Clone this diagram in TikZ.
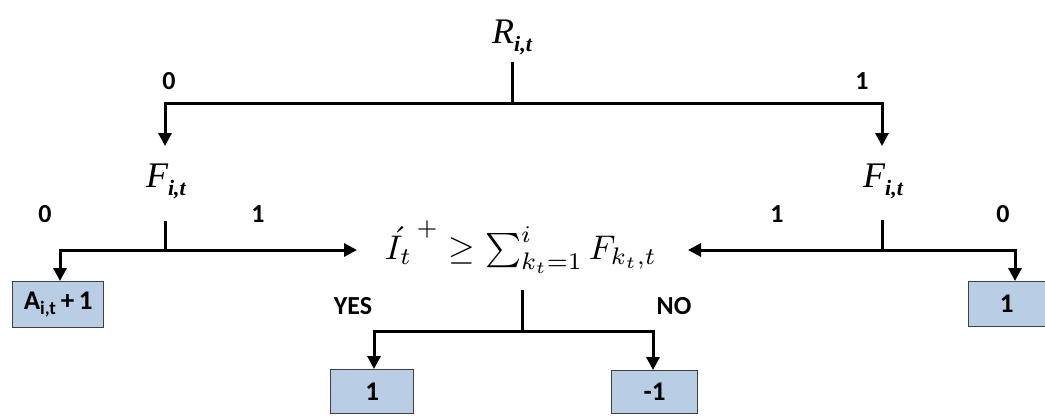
\documentclass[tikz,border=0pt]{standalone}
\usepackage{fontspec}
\setsansfont{Carlito}
\newfontfamily\tms{Liberation Serif}
\usetikzlibrary{arrows.meta}
\newcommand{\varRF}[1]{{\tms\itshape\fontsize{36}{40}\selectfont #1\raisebox{-0.22em}{\fontsize{22}{24}\selectfont\bfseries i,t}}}
\begin{document}
\begin{tikzpicture}[x=1pt,y=-1pt,
  conn/.style={line width=3pt,-{Triangle[width=13pt,length=13pt]}},
  plain/.style={line width=3pt},
  lbl/.style={font=\sffamily\bfseries\fontsize{26}{28}\selectfont,inner sep=0pt},
  res/.style={draw=black!75,line width=1.3pt,fill={rgb,255:red,185;green,205;blue,229},font=\sffamily\bfseries\fontsize{27}{28}\selectfont,inner sep=0pt,anchor=north west},
  var/.style={inner sep=0pt}]
\useasboundingbox (0,0) rectangle (1045,416);
% top
\node[var] (R) at (512,37) {\varRF{R}};
\coordinate (r1) at (512,62);
\coordinate (r2) at (512,103);
\coordinate (rl) at (165,103);
\coordinate (rr) at (882,103);
\node[var] (FL) at (166,181) {\varRF{F}};
\node[var] (FR) at (883,181) {\varRF{F}};
\draw[plain] (r1) -- (r2);
\draw[conn] (r2) -- (rl) -- (165,146);
\draw[conn] (r2) -- (rr) -- (882,146);
\node[lbl] (l0a) at (169,81) {0};
\node[lbl] (l1a) at (862,81) {1};
% central formula
\node[inner sep=0pt] (C) at (521,247) {\resizebox{272pt}{!}{$\acute{I_t}^{\,+} \geq \sum_{k_t=1}^{i} F_{k_t,t}$}};
% left F
\coordinate (fl1) at (165,221);
\coordinate (fl2) at (165,250);
\coordinate (fl3) at (60,250);
\draw[plain] (fl1) -- (fl2);
\draw[conn] (fl2) -- (357,250);
\node[res,minimum width=91pt,minimum height=46pt] (A) at (12,281) {A\textsubscript{i,t}\,+\,1};
\draw[conn] (fl2) -- (fl3) -- (A.north -| fl3);
\node[lbl] (l0b) at (45,214) {0};
\node[lbl] (l1b) at (258,214) {1};
% right F
\coordinate (fr1) at (882,220);
\coordinate (fr2) at (882,250);
\coordinate (fr3) at (1015,250);
\draw[plain] (fr1) -- (fr2);
\draw[conn] (fr2) -- (688,250);
\node[res,minimum width=77pt,minimum height=45pt] (B) at (967.5,281) {1};
\draw[conn] (fr2) -- (fr3) -- (B.north -| fr3);
\node[lbl] (l1c) at (777,214) {1};
\node[lbl] (l0c) at (1003,214) {0};
% bottom
\coordinate (c1) at (522,290);
\coordinate (c2) at (522,331);
\coordinate (cl) at (374,331);
\coordinate (cr) at (653,331);
\draw[plain] (c1) -- (c2);
\node[res,minimum width=83pt,minimum height=44pt] (D) at (330,369) {1};
\node[res,minimum width=86pt,minimum height=43pt] (E) at (611,370) {-1};
\draw[conn] (c2) -- (cl) -- (D.north -| cl);
\draw[conn] (c2) -- (cr) -- (E.north -| cr);
\node[lbl] (yes) at (353,306) {YES};
\node[lbl] (no) at (674,306) {NO};
\end{tikzpicture}
\end{document}
